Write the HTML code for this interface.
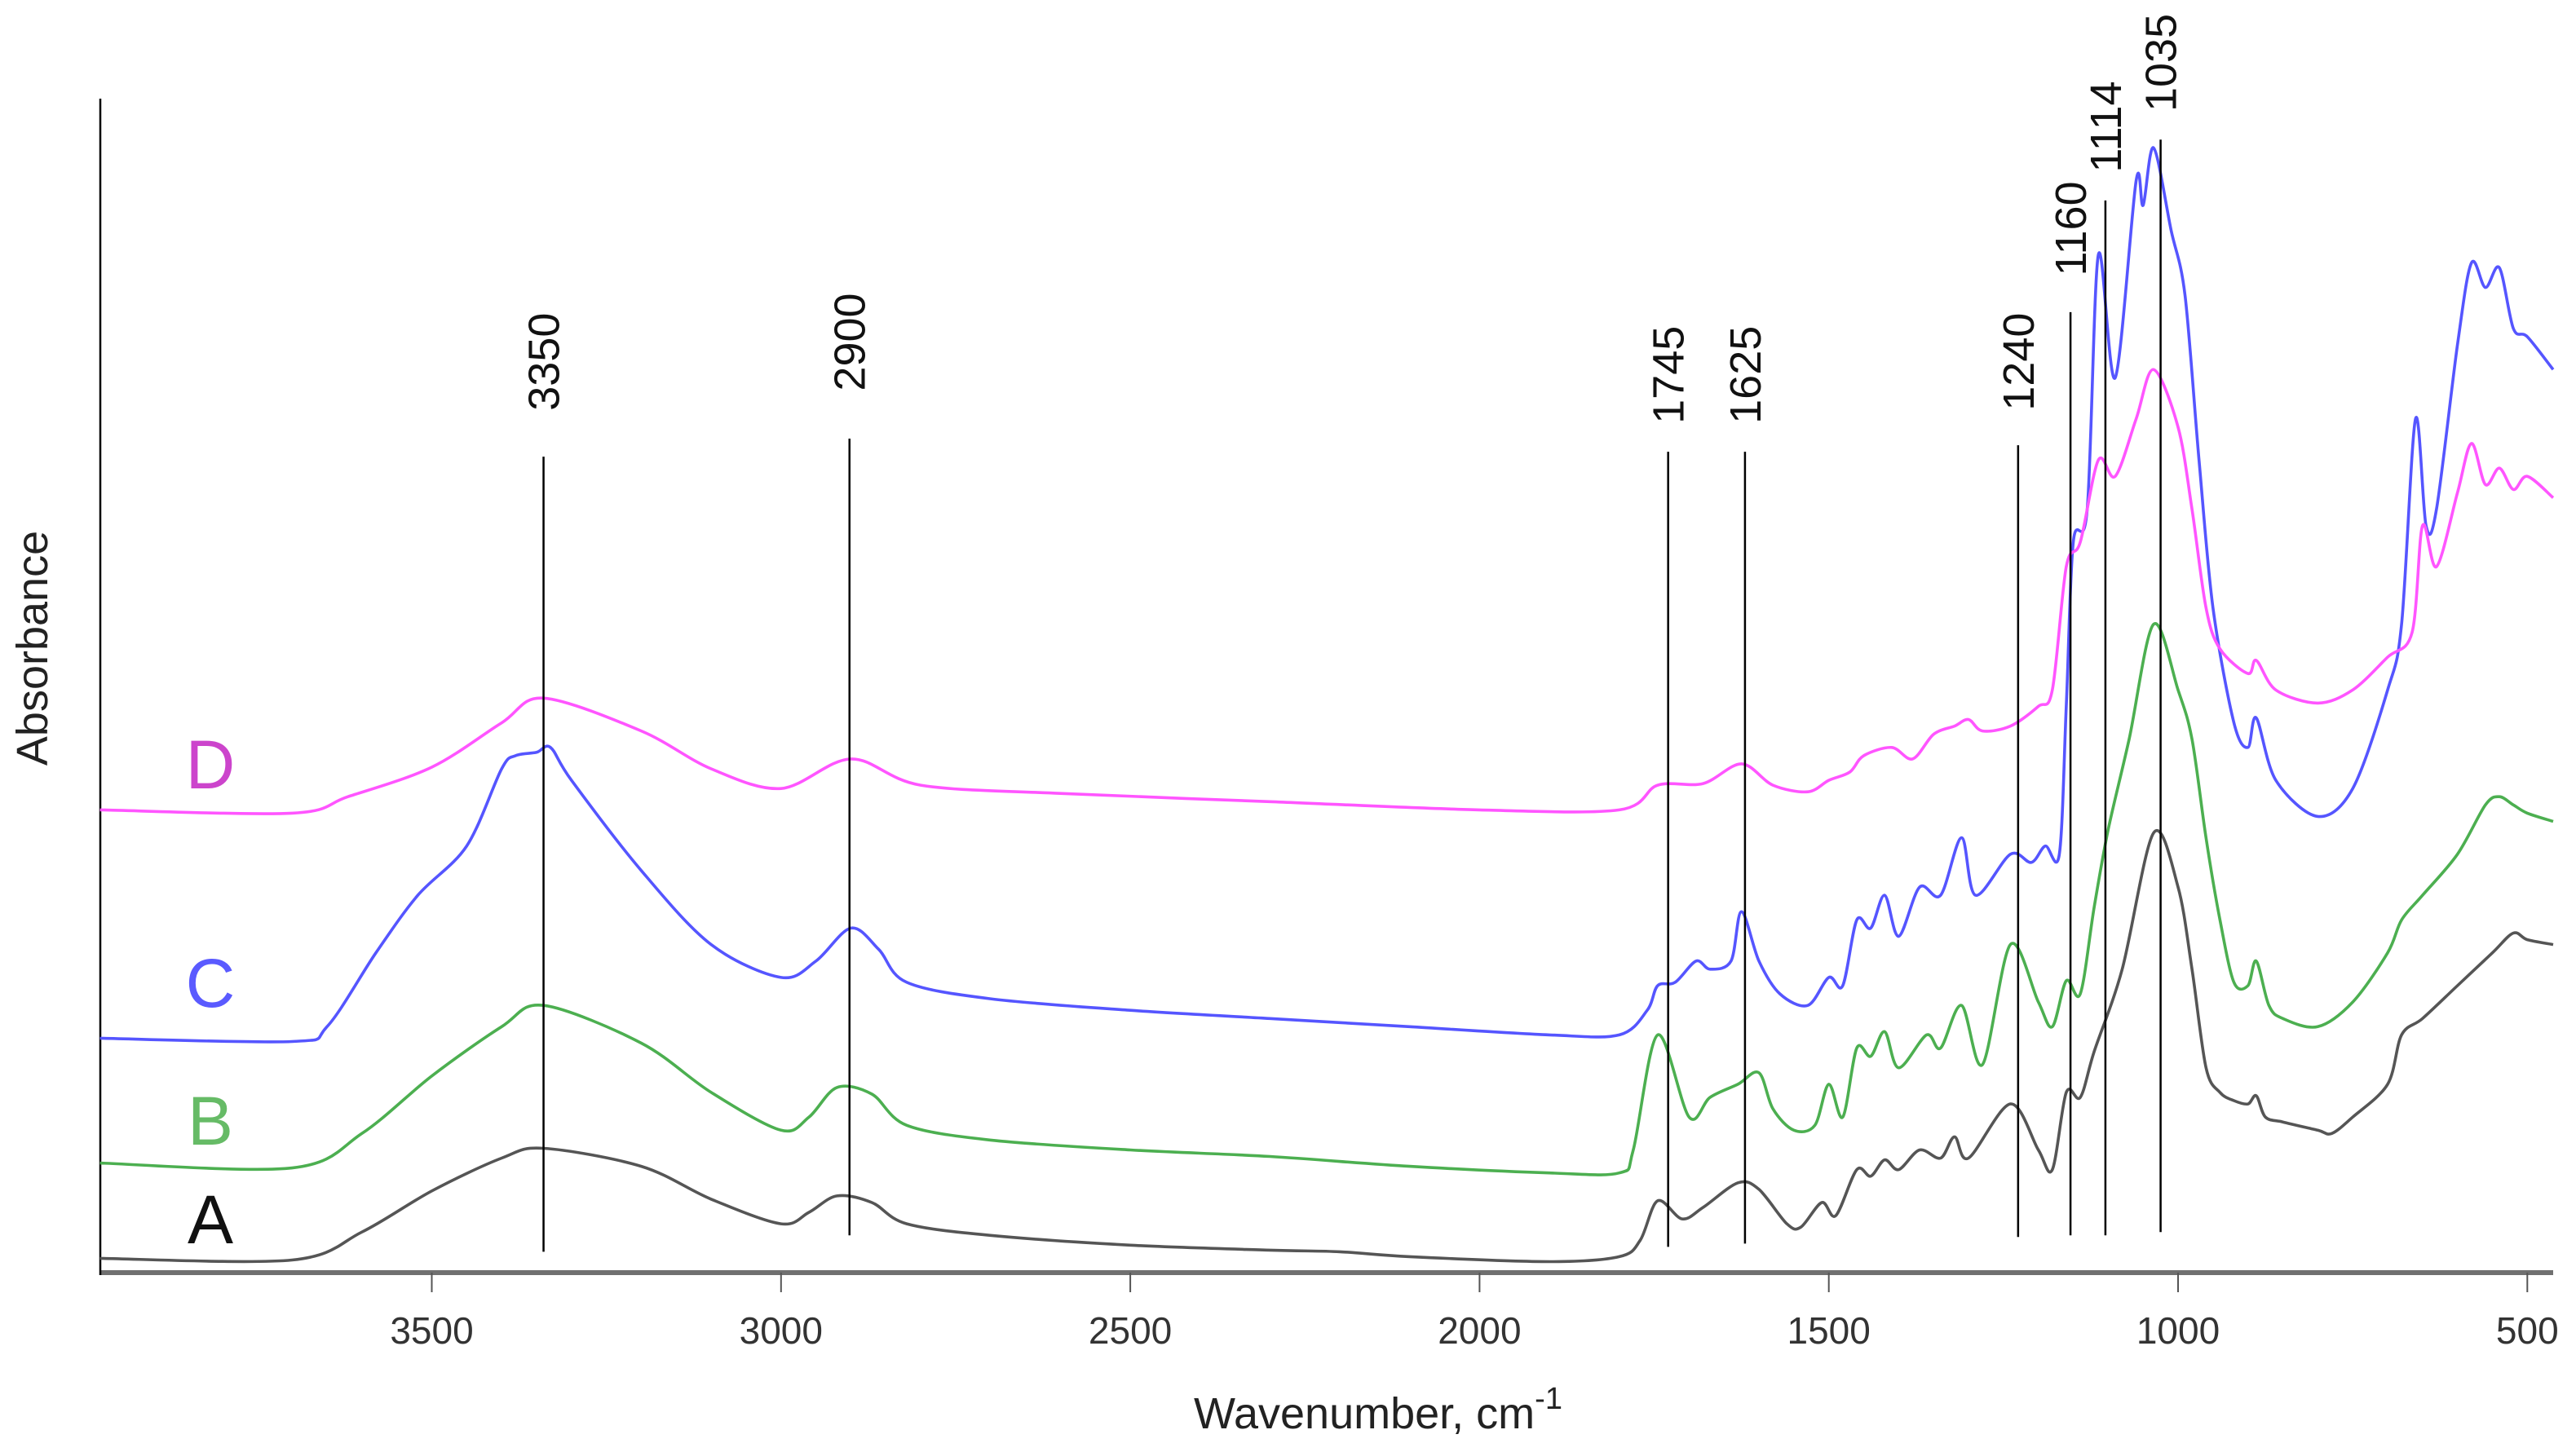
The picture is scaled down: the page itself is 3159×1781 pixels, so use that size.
<!DOCTYPE html>
<html><head><meta charset="utf-8"><style>
html,body{margin:0;padding:0;background:#fff;}
svg{display:block;}
text{font-family:"Liberation Sans",sans-serif;}
</style></head><body>
<svg id="chart" width="3159" height="1781" viewBox="0 0 3159 1781" xmlns="http://www.w3.org/2000/svg">
<g id="axes"></g>
<g id="series"></g>
<g id="markers"></g>
<text x="0" y="0" transform="translate(58,795) rotate(-90)" text-anchor="middle" font-size="54" fill="#222">Absorbance</text>
<text x="1690" y="1752" text-anchor="middle" font-size="54" fill="#222">Wavenumber, cm<tspan dy="-24" font-size="38">-1</tspan></text>
<text x="258" y="967" text-anchor="middle" font-size="84" fill="#cc44cc">D</text>
<text x="258" y="1235" text-anchor="middle" font-size="84" fill="#5a5aff">C</text>
<text x="258" y="1404" text-anchor="middle" font-size="84" fill="#66bb66">B</text>
<text x="258" y="1525" text-anchor="middle" font-size="84" fill="#111">A</text>
</svg>
<script>
const xTicks=[3500,3000,2500,2000,1500,1000,500];
const wA=[3975,3700,3600,3500,3400,3340,3200,3100,3000,2960,2920,2870,2820,2700,2500,2300,2200,2100,1900,1800,1770,1745,1710,1680,1630,1600,1560,1540,1510,1490,1460,1440,1420,1400,1370,1340,1320,1300,1240,1200,1180,1160,1140,1120,1080,1035,1000,980,960,940,920,900,888,875,850,800,780,750,700,680,650,600,550,520,500,463];
const vA=[9,8,25,50,70,76,65,45,30,37,47,43,30,23,17,14,13,10,7,10,20,44,33,40,55,51,30,28,43,35,63,59,69,63,75,70,83,70,103,75,63,110,107,135,185,268,235,185,125,110,105,103,108,95,92,87,85,95,115,145,155,175,195,207,203,200];
const wB=[3975,3700,3600,3500,3400,3340,3200,3100,3000,2960,2920,2870,2820,2700,2500,2300,2100,1900,1800,1780,1745,1700,1670,1630,1600,1580,1550,1520,1500,1480,1460,1440,1420,1400,1360,1340,1310,1280,1240,1200,1180,1160,1140,1120,1100,1070,1035,1000,980,960,940,920,900,888,870,850,800,750,700,680,650,600,560,540,520,500,463];
const vB=[67,64,85,120,150,163,140,110,87,95,113,109,90,81,75,71,65,61,61,75,145,95,107,115,122,100,87,90,115,95,137,132,147,125,145,137,163,127,200,165,150,178,170,223,270,325,395,355,325,265,215,177,175,190,163,155,150,165,195,215,230,255,285,290,285,280,275];
const wC=[3975,3700,3650,3580,3520,3450,3400,3380,3350,3330,3300,3200,3100,3000,2950,2900,2860,2820,2700,2500,2300,2100,1900,1800,1760,1745,1720,1690,1670,1640,1625,1600,1570,1530,1500,1480,1460,1440,1420,1400,1370,1340,1310,1290,1240,1210,1190,1170,1160,1150,1130,1114,1090,1060,1050,1035,1010,990,970,950,920,900,888,860,800,750,700,680,660,645,630,600,580,560,540,520,500,463];
const vC=[143,141,150,195,230,260,307,315,317,320,300,245,200,180,190,210,197,177,167,160,155,150,145,145,160,175,177,190,185,190,220,190,170,163,180,175,215,210,230,205,235,230,265,230,255,250,260,255,345,445,465,620,545,665,650,685,635,595,495,405,335,320,338,300,278,295,355,395,520,455,465,565,615,600,612,575,570,550];
const wD=[3975,3700,3620,3500,3400,3340,3200,3100,3000,2900,2800,2600,2300,2000,1800,1745,1680,1625,1580,1530,1500,1470,1450,1410,1380,1350,1320,1300,1280,1240,1200,1180,1160,1140,1114,1090,1060,1035,1000,980,960,940,900,888,860,800,750,700,665,650,630,600,580,560,540,520,500,463];
const vD=[282,280,290,308,335,350,330,307,295,313,297,292,287,282,282,297,298,310,297,293,300,305,315,320,313,328,333,337,330,333,345,355,430,445,495,485,520,550,515,465,405,380,365,373,355,347,355,375,390,455,430,475,505,480,490,477,485,472];
const markerPos=[3340,2902,1730,1620,1229,1154,1104,1025];
const markerLabels=["3350","2900","1745","1625","1240","1160","1114","1035"];
const markerTop=[278,267,275,275,271,190,122,85];
const markerBottom=[762,752,759,757,753,752,752,750];
const labelEnd=[250,238,258,258,250,168,105,68];

const NS="http://www.w3.org/2000/svg";
function xs(w){return 2671-(w-1000)*0.8566;}
function ys(a){return 1561.6-a*2.015;}
function mk(tag,attrs,parent){const e=document.createElementNS(NS,tag);for(const k in attrs)e.setAttribute(k,attrs[k]);parent.appendChild(e);return e;}
const axes=document.getElementById('axes');
const ax=mk('line',{x1:123,y1:1561,x2:3131,y2:1561,stroke:'#707070','stroke-width':6},axes);


const yl=mk('line',{x1:123,y1:121,x2:123,y2:1564,stroke:'#000','stroke-width':2.5},axes);


xTicks.forEach(t=>{
  const l=mk('line',{x1:xs(t),y1:1561,x2:xs(t),y2:1585,stroke:'#555','stroke-width':2},axes);
  
  
  const tx=mk('text',{x:xs(t),y:1648,'text-anchor':'middle','font-size':46,fill:'#333'},axes);
  tx.textContent=t;
  
  
});
const series=document.getElementById('series');
function smoothPath(P){
  let d='M'+P[0][0].toFixed(1)+','+P[0][1].toFixed(1);
  for(let i=0;i<P.length-1;i++){
    const p0=P[Math.max(0,i-1)],p1=P[i],p2=P[i+1],p3=P[Math.min(P.length-1,i+2)];
    const t=0.16;
    const c1=[p1[0]+(p2[0]-p0[0])*t,p1[1]+(p2[1]-p0[1])*t];
    const c2=[p2[0]-(p3[0]-p1[0])*t,p2[1]-(p3[1]-p1[1])*t];
    d+=' C'+c1[0].toFixed(1)+','+c1[1].toFixed(1)+' '+c2[0].toFixed(1)+','+c2[1].toFixed(1)+' '+p2[0].toFixed(1)+','+p2[1].toFixed(1);
  }
  return d;
}
function drawSeries(w,v,color,name){
  const P=w.map((x,i)=>[xs(x),ys(v[i])]);
  const p=mk('path',{d:smoothPath(P),fill:'none',stroke:color,'stroke-width':3.6,'stroke-linejoin':'round'},series);
  
  
}
drawSeries(wA,vA,'#555555','spectrum-a');
drawSeries(wB,vB,'#4caf50','spectrum-b');
drawSeries(wC,vC,'#5555ff','spectrum-c');
drawSeries(wD,vD,'#ff55ff','spectrum-d');
const markers=document.getElementById('markers');
markerPos.forEach((m,i)=>{
  const x=xs(m);
  const l=mk('line',{x1:x,y1:markerTop[i]*2.015,x2:x,y2:markerBottom[i]*2.015,stroke:'#000','stroke-width':2.5},markers);
  
  
  const ty=labelEnd[i]*2.015;
  const t=mk('text',{x:0,y:0,transform:'translate('+(x+19)+','+ty+') rotate(-90)','font-size':54,fill:'#111'},markers);
  t.textContent=markerLabels[i];
  
  
});
</script>
</body></html>
